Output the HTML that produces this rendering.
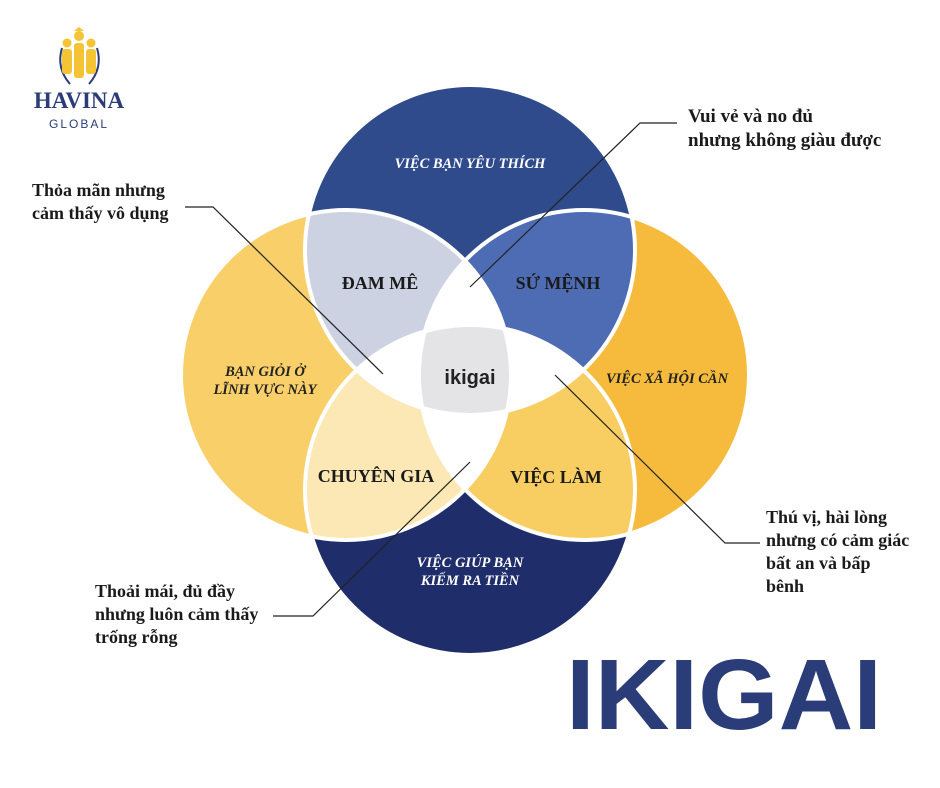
<!DOCTYPE html>
<html><head><meta charset="utf-8"><style>
html,body{margin:0;padding:0;background:#fff;}
svg{display:block}
</style></head><body>
<svg width="940" height="788" viewBox="0 0 940 788" xmlns="http://www.w3.org/2000/svg">
<defs>
<clipPath id="cT"><circle cx="470" cy="250" r="165"/></clipPath>
<clipPath id="cB"><circle cx="470" cy="490" r="165"/></clipPath>
<clipPath id="cL"><circle cx="346" cy="375" r="165"/></clipPath>
<clipPath id="cR"><circle cx="584" cy="375" r="165"/></clipPath>
</defs>
<rect width="940" height="788" fill="#fff"/>
<circle cx="346" cy="375" r="165" fill="#f8cf69"/>
<circle cx="584" cy="375" r="165" fill="#f6bb3c"/>
<circle cx="470" cy="490" r="165" fill="#1f2d6a"/>
<circle cx="470" cy="250" r="165" fill="#2f4b8c"/>
<g clip-path="url(#cT)"><circle cx="346" cy="375" r="165" fill="#cdd2e3"/></g>
<g clip-path="url(#cT)"><circle cx="584" cy="375" r="165" fill="#4d6cb3"/></g>
<g clip-path="url(#cB)"><circle cx="346" cy="375" r="165" fill="#fbe8b4"/></g>
<g clip-path="url(#cB)"><circle cx="584" cy="375" r="165" fill="#f8cd62"/></g>
<g clip-path="url(#cT)"><circle cx="470" cy="490" r="165" fill="#fff"/></g>
<g clip-path="url(#cL)"><circle cx="584" cy="375" r="165" fill="#fff"/></g>
<g clip-path="url(#cT)"><g clip-path="url(#cB)"><g clip-path="url(#cL)"><circle cx="584" cy="375" r="165" fill="#e4e4e7"/></g></g></g>
<g fill="none" stroke="#fff" stroke-width="4">
<circle cx="346" cy="375" r="165"/><circle cx="584" cy="375" r="165"/>
<circle cx="470" cy="490" r="165"/><circle cx="470" cy="250" r="165"/>
</g>
<g fill="none" stroke="#222" stroke-width="1.2">
<polyline points="470,287 640,123 677,123"/>
<polyline points="185,207 213,207 383,374"/>
<polyline points="555,375 725,543 760,543"/>
<polyline points="470,462 313,616 273,616"/>
</g>
<g font-family="Liberation Serif, serif" font-style="italic" font-weight="bold" font-size="14.5" text-anchor="middle">
<text x="470" y="168" fill="#fff">VIỆC BẠN YÊU THÍCH</text>
<text x="470" y="567" fill="#fff">VIỆC GIÚP BẠN</text>
<text x="470" y="585" fill="#fff">KIẾM RA TIỀN</text>
<text x="265" y="376" fill="#222">BẠN GIỎI Ở</text>
<text x="265" y="394" fill="#222">LĨNH VỰC NÀY</text>
<text x="667" y="383" fill="#222">VIỆC XÃ HỘI CẦN</text>
</g>
<g font-family="Liberation Serif, serif" font-weight="bold" font-size="18" fill="#1a1a1a" text-anchor="middle">
<text x="380" y="289">ĐAM MÊ</text>
<text x="558" y="289">SỨ MỆNH</text>
<text x="376" y="482">CHUYÊN GIA</text>
<text x="556" y="483">VIỆC LÀM</text>
</g>
<text x="470" y="384" font-family="Liberation Sans, sans-serif" font-weight="bold" font-size="20" fill="#222" text-anchor="middle">ikigai</text>
<g font-family="Liberation Serif, serif" font-weight="bold" fill="#1a1a1a">
<text x="688" y="122" font-size="19">Vui vẻ và no đủ</text>
<text x="688" y="146" font-size="19">nhưng không giàu được</text>
<g font-size="18">
<text x="32" y="196">Thỏa mãn nhưng</text>
<text x="32" y="219">cảm thấy vô dụng</text>
<text x="766" y="523">Thú vị, hài lòng</text>
<text x="766" y="546">nhưng có cảm giác</text>
<text x="766" y="569">bất an và bấp</text>
<text x="766" y="592">bênh</text>
<text x="95" y="597">Thoải mái, đủ đầy</text>
<text x="95" y="620">nhưng luôn cảm thấy</text>
<text x="95" y="643">trống rỗng</text>
</g>
</g>
<text x="566" y="729" font-family="Liberation Sans, sans-serif" font-weight="bold" font-size="100" fill="#2b3d78" textLength="316" lengthAdjust="spacingAndGlyphs">IKIGAI</text>
<g>
<path d="M62 48 Q56 68 70 84" fill="none" stroke="#2b3d78" stroke-width="2"/>
<path d="M97 48 Q103 68 89 84" fill="none" stroke="#2b3d78" stroke-width="2"/>
<circle cx="79" cy="36" r="5" fill="#f4c435"/>
<circle cx="67" cy="43" r="4.5" fill="#f4c435"/>
<circle cx="91" cy="43" r="4.5" fill="#f4c435"/>
<rect x="62" y="49" width="10" height="25" rx="3" fill="#f4c435"/>
<rect x="86" y="49" width="10" height="25" rx="3" fill="#f4c435"/>
<rect x="74" y="43" width="10" height="35" rx="3" fill="#f4c435"/>
<path d="M74 31 L79 27 L84 31 Z" fill="#f4c435"/>
</g>
<text x="79" y="108" font-family="Liberation Serif, serif" font-weight="bold" font-size="23" fill="#2b3d78" text-anchor="middle">HAVINA</text>
<text x="79" y="128" font-family="Liberation Sans, sans-serif" font-size="12" letter-spacing="2" fill="#2b3d78" text-anchor="middle">GLOBAL</text>
</svg>
</body></html>
